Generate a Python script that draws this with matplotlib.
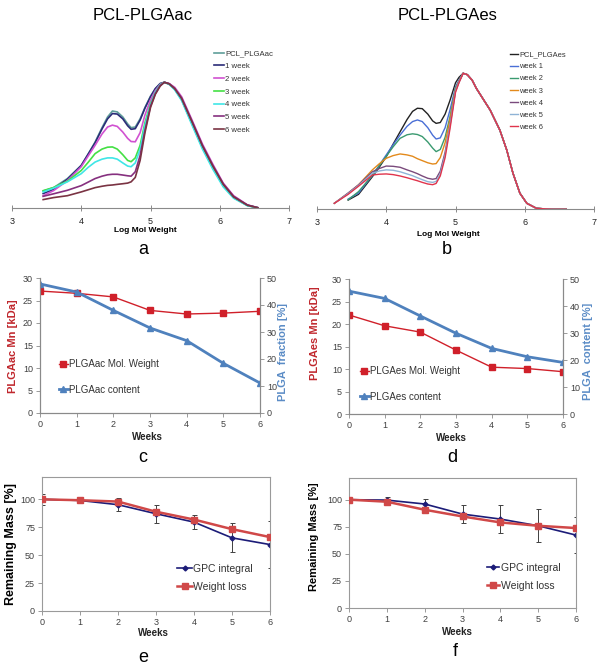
import numpy as np
import matplotlib
matplotlib.use('Agg')
import matplotlib.pyplot as plt

plt.rcParams['font.family'] = ['Liberation Sans', 'DejaVu Sans']

# ---------------- Panel a : GPC traces PCL-PLGAac ----------------
ac_logmw = [3.45, 3.6, 3.8, 4.0, 4.1, 4.2, 4.3, 4.38, 4.45, 4.52, 4.6, 4.67, 4.72, 4.78, 4.85,
            4.92, 5.0, 5.07, 5.14, 5.2, 5.27, 5.35, 5.45, 5.6, 5.75, 5.9, 6.05, 6.2, 6.4, 6.55]
ac_0wk = [.137, .164, .236, .34, .43, .526, .64, .725, .772, .765, .725, .67, .64, .645, .71,
          .80, .89, .95, .99, 1.0, .985, .945, .86, .67, .48, .32, .18, .085, .022, .004]
ac_1wk = [.117, .15, .23, .34, .43, .52, .63, .71, .752, .748, .71, .655, .627, .632, .70,
          .795, .885, .95, .99, 1.0, .988, .95, .87, .685, .495, .335, .19, .09, .024, .004]
ac_2wk = [.10, .14, .22, .33, .415, .50, .59, .645, .66, .65, .605, .555, .53, .528, .60,
          .74, .86, .935, .985, 1.0, .99, .96, .885, .70, .51, .35, .20, .10, .027, .005]
ac_3wk = [.14, .165, .215, .30, .365, .434, .47, .485, .487, .47, .425, .38, .37, .40, .50,
          .68, .83, .92, .98, 1.0, .985, .945, .865, .675, .485, .325, .18, .085, .022, .004]
ac_4wk = [.13, .16, .21, .275, .325, .367, .39, .40, .40, .39, .36, .335, .33, .36, .47,
          .66, .82, .92, .98, 1.0, .983, .94, .855, .66, .47, .31, .17, .08, .02, .004]
ac_5wk = [.095, .115, .143, .18, .208, .236, .255, .266, .27, .27, .264, .258, .255, .29, .42,
          .62, .81, .91, .975, 1.0, .988, .95, .875, .69, .50, .34, .195, .095, .026, .005]
ac_6wk = [.069, .085, .10, .13, .147, .164, .175, .182, .185, .19, .195, .20, .21, .245, .38,
          .60, .80, .905, .97, 1.0, .988, .95, .87, .685, .495, .335, .19, .09, .024, .004]
ac_labels = ['PCL_PLGAac', '1 week', '2 week', '3 week', '4 week', '5 week', '6 week']
ac_colors = ['#5f9e9a', '#2b2c78', '#d152d1', '#44e044', '#3fe6e6', '#86307f', '#7a3343']

# ---------------- Panel b : GPC traces PCL-PLGAes ----------------
es_logmw = [3.25, 3.45, 3.6, 3.8, 3.9, 4.0, 4.1, 4.2, 4.3, 4.38, 4.45, 4.52, 4.6, 4.67, 4.72,
            4.78, 4.85, 4.92, 5.0, 5.05, 5.11, 5.17, 5.24, 5.3, 5.4, 5.5, 5.64, 5.74, 5.83,
            5.93, 6.03, 6.17, 6.4, 6.6]
es_tail = [.99, .95, .89, .81, .73, .583, .436, .265, .118, .044, .007, 0.0, 0.0]
es_0wk = [np.nan, .068, .11, .24, .31, .387, .48, .57, .66, .72, .743, .74, .70, .65, .632,
          .638, .70, .80, .93, .97, 1.0] + es_tail
es_1wk = [np.nan, .075, .12, .25, .325, .40, .475, .546, .61, .645, .657, .645, .60, .545, .517,
          .525, .60, .73, .90, .95, 1.0] + es_tail
es_2wk = [np.nan, .07, .13, .25, .32, .39, .46, .522, .548, .555, .55, .535, .495, .45, .424,
          .44, .53, .68, .89, .94, 1.0] + es_tail
es_3wk = [.044, .118, .18, .29, .335, .375, .395, .407, .40, .39, .372, .358, .342, .333, .336,
          .38, .49, .66, .88, .94, 1.0] + es_tail
es_4wk = [.044, .12, .18, .276, .30, .318, .316, .309, .29, .276, .262, .245, .228, .221, .226,
          .28, .42, .62, .87, .935, 1.0] + es_tail
es_5wk = [.044, .115, .175, .265, .282, .29, .287, .276, .26, .247, .232, .218, .203, .198, .205,
          .26, .40, .61, .87, .935, 1.0] + es_tail
es_6wk = [.044, .11, .17, .252, .258, .26, .255, .245, .232, .22, .21, .198, .186, .181, .19,
          .245, .38, .59, .86, .93, 1.0] + es_tail
es_labels = ['PCL_PLGAes', 'week 1', 'week 2', 'week 3', 'week 4', 'week 5', 'week 6']
es_colors = ['#222222', '#4a6fd6', '#3a9a70', '#e38a1c', '#7a4a7c', '#8fb3d6', '#e0344c']

# ---------------- Panels c, d ----------------
weeks = [0, 1, 2, 3, 4, 5, 6]
ac_mn = [27.1, 26.6, 25.8, 22.8, 22.0, 22.2, 22.6]
ac_content = [47.8, 44.8, 38.0, 31.5, 26.8, 18.4, 11.1]
es_mn = [22.0, 19.6, 18.2, 14.2, 10.4, 10.1, 9.4]
es_content = [45.5, 42.8, 36.3, 29.9, 24.3, 21.2, 19.1]

# ---------------- Panels e, f ----------------
e_gpc = [100, 99.0, 95.2, 87.1, 79.6, 65.5, 59.5]
e_gpc_err = [5, 2.5, 6, 8, 6, 13, 21]
e_weight = [100, 99.2, 98.0, 88.9, 81.9, 73.3, 66.2]
f_gpc = [100, 99.6, 96.0, 86.7, 82.1, 75.9, 67.3]
f_gpc_err = [0, 3, 5, 8.2, 13.3, 15.2, 16.8]
f_weight = [100, 98.1, 90.7, 84.5, 79.0, 75.9, 73.8]

W, H = 601, 665
fig = plt.figure(figsize=(W / 100, H / 100), dpi=100)


def axes_px(l, t, r, b):
    return fig.add_axes([l / W, 1 - b / H, (r - l) / W, (b - t) / H])


def txt(x, y, s, **kw):
    fig.text(x / W, 1 - y / H, s, **kw)


def leg(ax, handles, labels, x, y, fs, **kw):
    ax.legend(handles, labels, loc='upper left', bbox_to_anchor=(x / W, 1 - y / H),
              bbox_transform=fig.transFigure, frameon=False, borderpad=0, borderaxespad=0,
              prop={'size': fs}, labelcolor='#333333', **kw)


def gpc_panel(ax, xs, series, labels, colors, lw):
    for ys, lab, c in zip(series, labels, colors):
        ax.plot(xs, ys, color=c, lw=lw, label=lab, solid_joinstyle='round')
    ax.set_xlim(3, 7)
    ax.set_ylim(0, 1.05)
    ax.set_yticks([])
    ax.set_xticks([3, 4, 5, 6, 7])
    for s in ['left', 'right', 'top']:
        ax.spines[s].set_visible(False)
    ax.spines['bottom'].set_color('#8a8a8a')
    ax.spines['bottom'].set_linewidth(0.8)
    ax.tick_params(axis='x', direction='inout', length=4, width=0.7, color='#8a8a8a',
                   labelsize=6.5, labelcolor='#222222', pad=4)


# ---- a ----
axa = axes_px(12, 76, 289, 208.3)
gpc_panel(axa, ac_logmw, [ac_0wk, ac_1wk, ac_2wk, ac_3wk, ac_4wk, ac_5wk, ac_6wk],
          ac_labels, ac_colors, 1.2)
h, l = axa.get_legend_handles_labels()
leg(axa, h, l, 214, 50, 5.6, handlelength=1.25, handletextpad=0.15, labelspacing=0.68)
txt(143, 16, 'PCL-PLGAac', fontsize=12, ha='center', va='center')
txt(145, 231, 'Log Mol Weight', fontsize=6, fontweight='bold', ha='center', va='center')
txt(143, 250, 'a', fontsize=13, ha='center', va='center')

# ---- b ----
axb = axes_px(317, 66.5, 594, 209.3)
gpc_panel(axb, es_logmw, [es_0wk, es_1wk, es_2wk, es_3wk, es_4wk, es_5wk, es_6wk],
          es_labels, es_colors, 1.0)
h, l = axb.get_legend_handles_labels()
leg(axb, h, l, 510, 51, 5.4, handlelength=1.1, handletextpad=0.1, labelspacing=0.65)
txt(448, 16, 'PCL-PLGAes', fontsize=12, ha='center', va='center')
txt(448, 234, 'Log Mol Weight', fontsize=6, fontweight='bold', ha='center', va='center')
txt(447, 250, 'b', fontsize=13, ha='center', va='center')

RED = '#d0202a'
BLUE = '#4f81bd'


def style_twin(ax, ax2):
    for a in (ax, ax2):
        a.spines['top'].set_visible(False)
        for s in ['left', 'right', 'bottom']:
            a.spines[s].set_color('#8a8a8a')
            a.spines[s].set_linewidth(0.8)
        a.tick_params(length=3, width=0.6, color='#8a8a8a', labelsize=6.5, labelcolor='#404040', pad=2)
    ax.set_xlim(0, 6)
    ax.set_xticks(weeks)
    ax.set_ylim(0, 30)
    ax.set_yticks(range(0, 31, 5))
    ax2.set_ylim(0, 50)
    ax2.set_yticks(range(0, 51, 10))


def mn_panel(rect, mn, content, lab_mn, lab_ct, ylab_l, ylab_r, pos):
    ax = axes_px(*rect)
    ax2 = ax.twinx()
    l1, = ax.plot(weeks, mn, color=RED, lw=1.0, marker='s', ms=4, mec=RED, mfc=RED)
    l2, = ax2.plot(weeks, content, color=BLUE, lw=2.0, marker='^', ms=5, mec=BLUE, mfc=BLUE)
    style_twin(ax, ax2)
    leg(ax2, [l1, l2], [lab_mn, lab_ct], pos['lx'], pos['ly'], 7,
        handlelength=0.9, handletextpad=0.15, labelspacing=1.6, numpoints=1)
    txt(pos['yl'][0], pos['yl'][1], ylab_l, rotation=90, fontsize=8, fontweight='bold',
        color='#c0272d', ha='center', va='center')
    txt(pos['yr'][0], pos['yr'][1], ylab_r, rotation=90, fontsize=8, fontweight='bold',
        color='#5b8cc6', ha='center', va='center')
    txt(pos['wk'][0], pos['wk'][1], 'Weeks', fontsize=7, fontweight='bold', ha='center', va='center',
        color='#222222')
    txt(pos['let'][0], pos['let'][1], pos['letter'], fontsize=13, ha='center', va='center')


mn_panel((40, 278, 260, 413), ac_mn, ac_content, 'PLGAac Mol. Weight', 'PLGAac content',
         'PLGAac Mn [kDa]', 'PLGA  fraction [%]',
         dict(lx=59, ly=359, yl=(13, 346), yr=(283, 352), wk=(147, 437), let=(143, 457), letter='c'))
mn_panel((349, 279, 563, 414), es_mn, es_content, 'PLGAes Mol. Weight', 'PLGAes content',
         'PLGAes Mn [kDa]', 'PLGA  content [%]',
         dict(lx=360, ly=366, yl=(315, 333), yr=(588, 351), wk=(451, 438), let=(452, 457), letter='d'))

NAVY = '#1c1c78'
WRED = '#d04848'


def mass_panel(rect, gpc, err, wl, pos, ylfs):
    ax = axes_px(*rect)
    ax.errorbar(weeks, gpc, yerr=err, fmt='none', ecolor='#404040', elinewidth=0.7, capsize=1.8,
                capthick=0.7, zorder=1)
    l1, = ax.plot(weeks, gpc, color=NAVY, lw=1.2, marker='D', ms=2.5, zorder=2)
    l2, = ax.plot(weeks, wl, color=WRED, lw=1.8, marker='s', ms=4.5, zorder=3)
    ax.set_xlim(0, 6)
    ax.set_ylim(0, 120)
    ax.set_xticks(weeks)
    ax.set_yticks([0, 25, 50, 75, 100])
    for s in ax.spines.values():
        s.set_color('#9a9a9a')
        s.set_linewidth(0.8)
    ax.tick_params(length=3, width=0.6, color='#8a8a8a', labelsize=6.5, labelcolor='#404040', pad=2)
    leg(ax, [l1, l2], ['GPC integral', 'Weight loss'], pos['lx'], pos['ly'], 7.5,
        handlelength=pos['hl'], handletextpad=0.1, labelspacing=0.75, numpoints=1)
    txt(pos['yl'][0], pos['yl'][1], 'Remaining Mass [%]', rotation=90, fontsize=ylfs,
        fontweight='bold', ha='center', va='center')
    txt(pos['wk'][0], pos['wk'][1], 'Weeks', fontsize=7, fontweight='bold', ha='center', va='center',
        color='#222222')
    txt(pos['let'][0], pos['let'][1], pos['letter'], fontsize=13, ha='center', va='center')


mass_panel((42, 477, 270, 611), e_gpc, e_gpc_err, e_weight,
           dict(lx=177, ly=564, hl=1.45, yl=(11, 544), wk=(153, 633), let=(143, 657), letter='e'), 9)
mass_panel((349, 478, 576, 608), f_gpc, f_gpc_err, f_weight,
           dict(lx=487, ly=563, hl=1.2, yl=(314, 537), wk=(457, 632), let=(455, 652), letter='f'), 8)

fig.savefig('out.png', dpi=100)
